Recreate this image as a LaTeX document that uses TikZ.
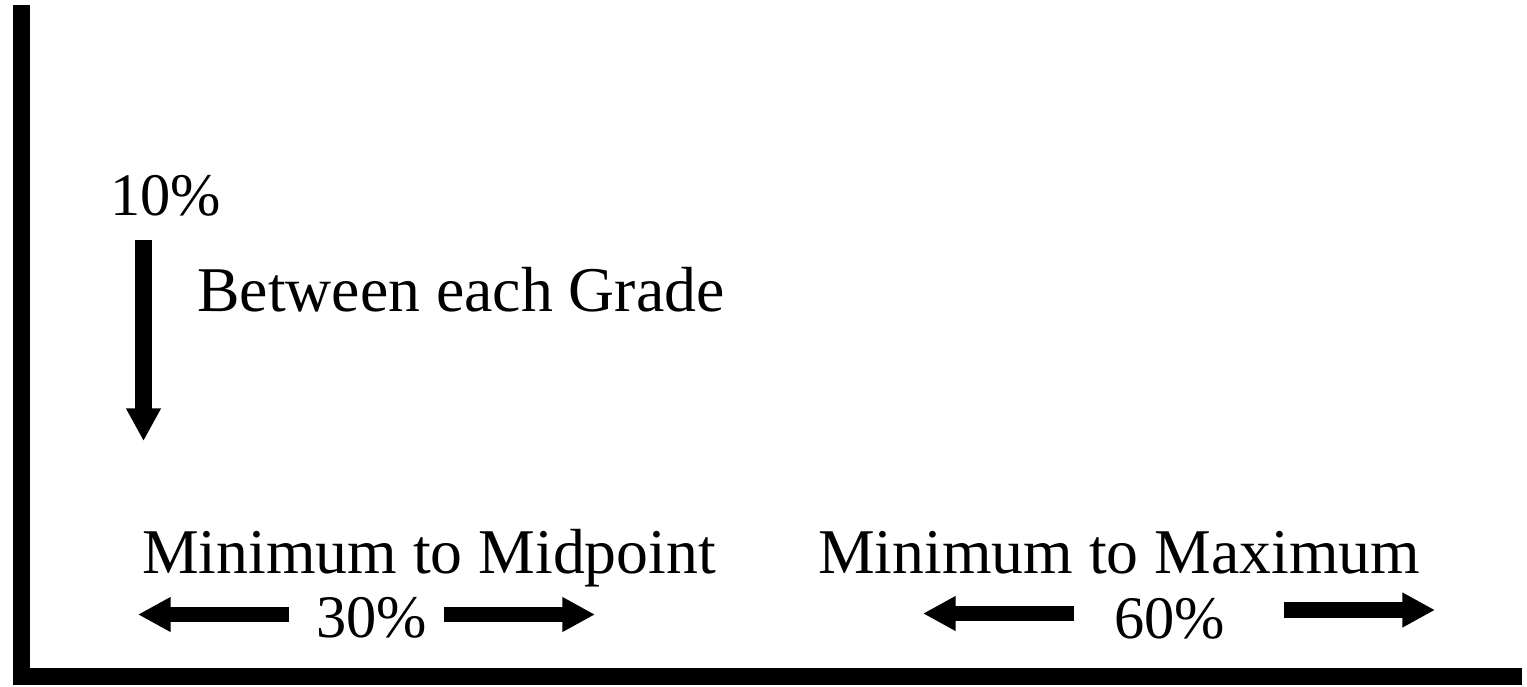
\documentclass[tikz,border=0pt]{standalone}
\usepackage{fontspec}
\setmainfont{Liberation Serif}
\usetikzlibrary{arrows.meta}
\begin{document}
\begin{tikzpicture}[x=0.75pt,y=-0.75pt,
  lbl/.style={inner sep=0pt, anchor=base west, font=\fontsize{45.3}{54}\selectfont},
  biglbl/.style={inner sep=0pt, anchor=base west, font=\fontsize{47.8}{57}\selectfont},
  blk/.style={line width=11.5pt, -{Triangle[length=24.5pt,width=24.5pt]}},
  axisline/.style={line width=12.75pt, line cap=butt, line join=miter}]
\useasboundingbox (0,0) rectangle (1527,686);
% axes
\coordinate (top) at (21,5);
\coordinate (origin) at (21,676);
\coordinate (right) at (1522,676);
\draw[axisline] (top) -- (origin) -- (right);
% labels
\node[lbl] (ten) at (110,215) {10\%};
\node[biglbl] (between) at (197,311) {Between each Grade};
\node[biglbl] (minmid) at (142,573) {Minimum to Midpoint};
\node[biglbl] (minmax) at (818,573) {Minimum to Maximum};
\node[lbl] (thirty) at (316,637) {30\%};
\node[lbl] (sixty) at (1114,638) {60\%};
% arrows
\coordinate (d0) at (143.5,240);
\coordinate (d1) at (143.5,441);
\draw[blk, line width=12.5pt] (d0) -- (d1);
\coordinate (a0) at (289,614.5);
\coordinate (a1) at (138,614.5);
\draw[blk] (a0) -- (a1);
\coordinate (b0) at (444,614.5);
\coordinate (b1) at (595,614.5);
\draw[blk] (b0) -- (b1);
\coordinate (c0) at (1074,613.5);
\coordinate (c1) at (923,613.5);
\draw[blk] (c0) -- (c1);
\coordinate (e0) at (1284,610);
\coordinate (e1) at (1435,610);
\draw[blk] (e0) -- (e1);
\end{tikzpicture}
\end{document}
